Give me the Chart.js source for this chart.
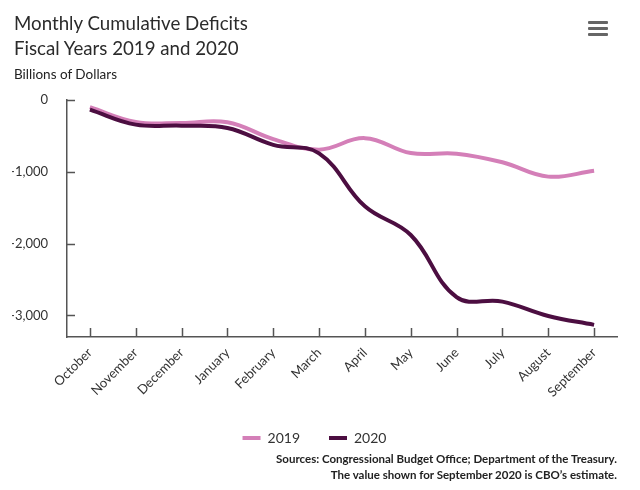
<!DOCTYPE html>
<html>
<head>
<meta charset="utf-8">
<script src="https://cdn.jsdelivr.net/npm/chart.js@4"></script>
<style>
  html, body { margin: 0; padding: 0; background: #fff; }
  #wrap { position: relative; width: 640px; height: 490px; overflow: hidden; font-family: Lato, "Open Sans", sans-serif; color: #333; }
  #c { position: absolute; left: 0; top: 0; }
  .title { position: absolute; left: 14px; top: 11px; font-size: 18.7px; line-height: 24.5px; color: #2b2b2b; }
  .units { position: absolute; left: 14px; top: 66px; font-size: 13.5px; color: #222; }
  .src { position: absolute; right: 23px; top: 451px; font-size: 11.5px; line-height: 15.5px; font-weight: bold; text-align: right; color: #222; }
  .menu { position: absolute; left: 588px; width: 20px; height: 3px; background: #666; border-radius: 1px; }
</style>
</head>
<body>
<div id="wrap">
  <canvas id="c" width="640" height="490"></canvas>
  <div class="title">Monthly Cumulative Deficits<br>Fiscal Years 2019 and 2020</div>
  <div class="units">Billions of Dollars</div>
  <div class="src">Sources: Congressional Budget Office; Department of the Treasury.<br>The value shown for September 2020 is CBO’s estimate.</div>
  <div class="menu" style="top:21px"></div>
  <div class="menu" style="top:27px"></div>
  <div class="menu" style="top:33px"></div>
</div>
<script>
const months = ["October","November","December","January","February","March","April","May","June","July","August","September"];
const fy2019 = [-100, -305, -319, -310, -544, -691, -531, -739, -747, -867, -1067, -984];
const fy2020 = [-134, -343, -357, -389, -624, -743, -1481, -1880, -2744, -2807, -3007, -3131];
const yTicks = [0, -1000, -2000, -3000];

const AXIS = '#555';
const PINK = '#d47fb8';
const DARK = '#4c0e41';
const PAD_BOTTOM = 35;
const PAD_LEFT = 12;

const innerTicks = {
  id: 'innerTicks',
  afterDatasetsDraw(chart) {
    const {ctx, chartArea, scales: {x, y}} = chart;
    ctx.save();
    ctx.strokeStyle = AXIS;
    ctx.lineWidth = 1.5;
    ctx.beginPath();
    y.ticks.forEach((t, i) => {
      const py = Math.round(y.getPixelForTick(i)) + 0.5;
      ctx.moveTo(chartArea.left, py);
      ctx.lineTo(chartArea.left + 8, py);
    });
    x.ticks.forEach((t, i) => {
      const px = Math.round(x.getPixelForTick(i)) + 0.5;
      ctx.moveTo(px, chartArea.bottom);
      ctx.lineTo(px, chartArea.bottom - 9);
    });
    ctx.stroke();
    ctx.restore();
  }
};

new Chart(document.getElementById('c'), {
  type: 'line',
  data: {
    labels: months,
    datasets: [
      { label: '2019', data: fy2019, borderColor: PINK, backgroundColor: PINK, borderWidth: 4, pointRadius: 0, tension: 0.4, order: 1 },
      { label: '2020', data: fy2020, borderColor: DARK, backgroundColor: DARK, borderWidth: 4, pointRadius: 0, tension: 0.4, order: 0 }
    ]
  },
  options: {
    responsive: false,
    animation: false,
    layout: { padding: { top: 100, left: PAD_LEFT, right: 23, bottom: PAD_BOTTOM } },
    plugins: {
      legend: {
        position: 'bottom',
        labels: {
          boxWidth: 18, boxHeight: 4, padding: 29, color: '#333',
          font: { family: 'Lato', size: 14 },
          sort: (a, b) => a.datasetIndex - b.datasetIndex,
          generateLabels(chart) {
            return Chart.defaults.plugins.legend.labels.generateLabels(chart)
              .map(l => Object.assign(l, { lineWidth: 0, strokeStyle: 'rgba(0,0,0,0)' }));
          }
        }
      },
      tooltip: { enabled: false },
      title: { display: false }
    },
    scales: {
      x: {
        offset: true,
        grid: { display: true, drawOnChartArea: false, drawTicks: false },
        border: { display: true, color: AXIS, width: 1.5 },
        ticks: { color: '#333', font: { family: 'Lato', size: 13 }, minRotation: 45, maxRotation: 45, padding: 8, autoSkip: false },
        afterFit(scale) { scale.height = (490 - PAD_BOTTOM - scale.chart.legend.height) - 337; }
      },
      y: {
        min: -3300, max: 0,
        grid: { display: true, drawOnChartArea: false, drawTicks: false },
        border: { display: true, color: AXIS, width: 1.5 },
        ticks: { color: '#333', font: { family: 'Lato', size: 13 }, padding: 19, stepSize: 1000 },
        afterBuildTicks(scale) { scale.ticks = yTicks.map(v => ({ value: v })); },
        afterFit(scale) { scale.width = 67 - PAD_LEFT; }
      }
    }
  },
  plugins: [innerTicks]
});
</script>
</body>
</html>
